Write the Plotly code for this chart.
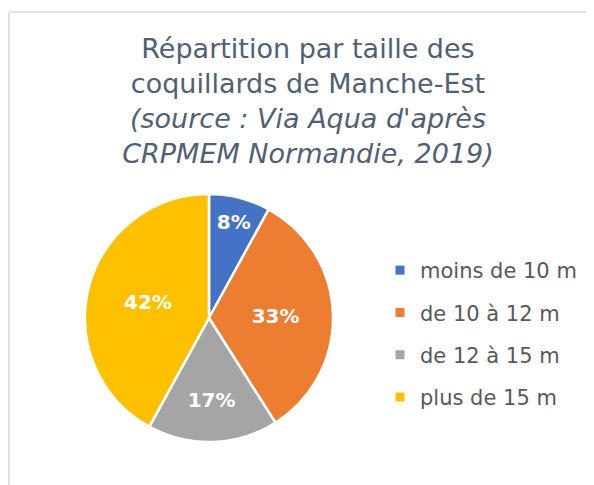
import plotly.graph_objects as go

categories = ["moins de 10 m", "de 10 à 12 m", "de 12 à 15 m", "plus de 15 m"]
values = [8, 33, 17, 42]
colors = ["#4472C4", "#ED7D31", "#A5A5A5", "#FFC000"]

title_lines = [
    "Répartition par taille des",
    "coquillards de Manche-Est",
    "<i>(source : Via Aqua d'après</i>",
    "<i>CRPMEM Normandie, 2019)</i>",
]

W, H = 594, 485
OFF = 8  # page body margin offset
FONT = "DejaVu Sans"
TXT = "#595959"
TITLE_COL = "#526073"


def px(x):
    return (x - OFF) / W


def py(y):
    return 1 - (y - OFF) / H


fig = go.Figure()
fig.add_trace(go.Pie(
    labels=categories,
    values=values,
    sort=False,
    direction="clockwise",
    rotation=0,
    marker=dict(colors=colors, line=dict(color="white", width=2.5)),
    texttemplate="<b>%{percent:.0%}</b>",
    textposition="inside",
    insidetextorientation="horizontal",
    textfont=dict(family=FONT, size=20, color="white"),
    showlegend=False,
    hoverinfo="label+percent",
    domain=dict(x=[px(85), px(333)], y=[py(442), py(194)]),
))

for i, (cat, col) in enumerate(zip(categories, colors)):
    fig.add_trace(go.Scatter(
        x=[None], y=[None], mode="markers", name=cat,
        marker=dict(symbol="square", size=9, color=col),
        legendgroup=f"g{i}", showlegend=True,
    ))

fig.update_layout(
    width=W, height=H,
    margin=dict(l=0, r=0, t=0, b=0),
    paper_bgcolor="white", plot_bgcolor="white",
    xaxis=dict(visible=False), yaxis=dict(visible=False),
    title=dict(
        text="<br>".join(title_lines),
        x=px(308), xanchor="center", y=py(58), yanchor="top",
        font=dict(family=FONT, size=27, color=TITLE_COL),
    ),
    legend=dict(
        x=px(380), xanchor="left", y=py(250), yanchor="top",
        font=dict(family=FONT, size=21, color=TXT),
        tracegroupgap=12, itemwidth=30,
        bgcolor="rgba(0,0,0,0)",
    ),
    shapes=[
        dict(type="line", xref="paper", yref="paper",
             x0=px(9), y0=0, x1=px(9), y1=py(12),
             line=dict(color="#D9D9D9", width=1.5)),
        dict(type="line", xref="paper", yref="paper",
             x0=px(9), y0=py(12), x1=1, y1=py(12),
             line=dict(color="#D9D9D9", width=1.5)),
    ],
)

fig.write_html("out.html")
